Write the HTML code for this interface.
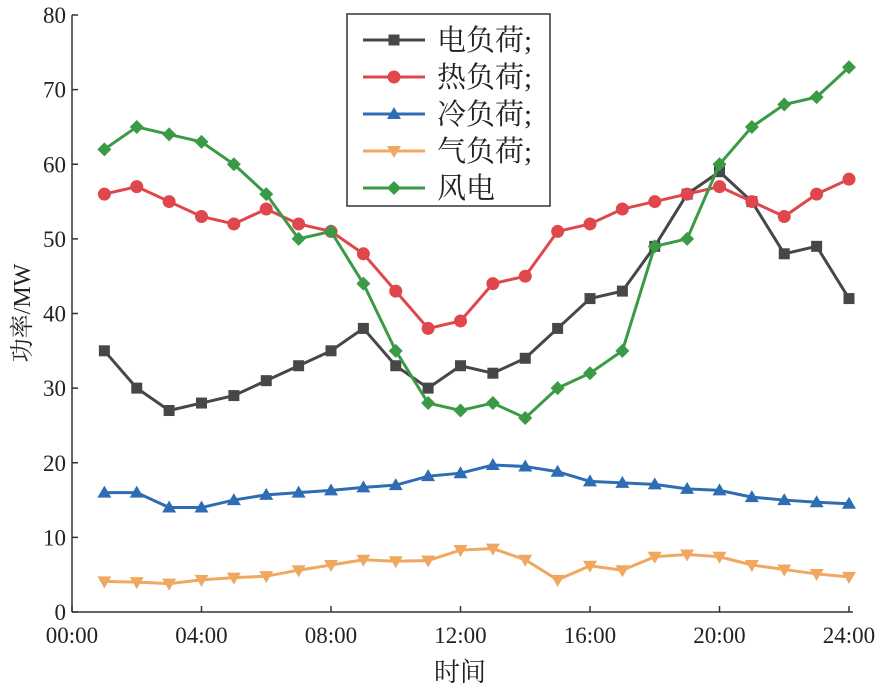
<!DOCTYPE html>
<html><head><meta charset="utf-8"><style>
body{margin:0;background:#fff;}
svg text{font-family:"Liberation Serif","Noto Serif CJK SC",serif;fill:#222;}
</style></head><body>
<svg id="s" width="884" height="689" xmlns="http://www.w3.org/2000/svg"></svg>
<script>
const s=document.getElementById('s');
const X0=72,X1=849,Y0=612,Y80=15;
const fx=h=>X0+(X1-X0)*h/24, fy=v=>Y0-(Y0-Y80)*v/80;
let o='';
o+=`<line x1="${X0}" y1="${Y80}" x2="${X0}" y2="${Y0}" stroke="#333" stroke-width="1.5"/>`;
o+=`<line x1="${X0}" y1="${Y0}" x2="${X1+4}" y2="${Y0}" stroke="#333" stroke-width="1.5"/>`;
for(let v=0;v<=80;v+=10){const y=fy(v);o+=`<line x1="${X0}" y1="${y}" x2="${X0+6}" y2="${y}" stroke="#333" stroke-width="1.5"/><text x="${X0-6}" y="${y+8}" font-size="23" text-anchor="end">${v}</text>`;}
for(let h=0;h<=24;h+=4){const x=fx(h);o+=`<line x1="${x}" y1="${Y0}" x2="${x}" y2="${Y0-6}" stroke="#333" stroke-width="1.5"/><text x="${x}" y="${Y0+31}" font-size="23" text-anchor="middle">${String(h).padStart(2,'0')}:00</text>`;}
o+=`<text x="460" y="681" font-size="26" text-anchor="middle">时间</text>`;
o+=`<text transform="translate(30,313) rotate(-90)" font-size="24" text-anchor="middle">功率/MW</text>`;
const S=[
['#474747','sq',[35,30,27,28,29,31,33,35,38,33,30,33,32,34,38,42,43,49,56,59,55,48,49,42]],
['#e0474c','ci',[56,57,55,53,52,54,52,51,48,43,38,39,44,45,51,52,54,55,56,57,55,53,56,58]],
['#2e6db4','tu',[16,16,14,14,15,15.7,16,16.3,16.7,17,18.2,18.6,19.7,19.5,18.8,17.5,17.3,17.1,16.5,16.3,15.4,15,14.7,14.5]],
['#f0a860','td',[4.1,4,3.8,4.3,4.6,4.8,5.6,6.3,7,6.8,6.9,8.3,8.5,7,4.3,6.2,5.6,7.4,7.7,7.4,6.3,5.7,5.1,4.7]],
['#3a9a45','di',[62,65,64,63,60,56,50,51,44,35,28,27,28,26,30,32,35,49,50,60,65,68,69,73]]];
function mk(t,x,y,c){
 if(t=='sq')return `<rect x="${x-5.5}" y="${y-5.5}" width="11" height="11" fill="${c}"/>`;
 if(t=='ci')return `<circle cx="${x}" cy="${y}" r="6.5" fill="${c}"/>`;
 if(t=='tu')return `<polygon points="${x},${y-7} ${x-7},${y+5} ${x+7},${y+5}" fill="${c}"/>`;
 if(t=='td')return `<polygon points="${x},${y+7} ${x-7},${y-5} ${x+7},${y-5}" fill="${c}"/>`;
 return `<polygon points="${x},${y-7} ${x+7},${y} ${x},${y+7} ${x-7},${y}" fill="${c}"/>`;
}
S.forEach(([c,t,d])=>{
 o+=`<polyline fill="none" stroke="${c}" stroke-width="3" points="${d.map((v,i)=>fx(i+1)+','+fy(v)).join(' ')}"/>`;
 d.forEach((v,i)=>o+=mk(t,fx(i+1),fy(v),c));
});
o+=`<rect x="347" y="14" width="203" height="192" fill="#fff" stroke="#333" stroke-width="1.5"/>`;
const L=['电负荷;','热负荷;','冷负荷;','气负荷;','风电'];
S.forEach(([c,t],i)=>{const y=40+i*37;
 o+=`<line x1="363" y1="${y}" x2="425" y2="${y}" stroke="${c}" stroke-width="3"/>`+mk(t,394,y,c)+`<text x="437" y="${y+10}" font-size="29">${L[i]}</text>`;});
s.innerHTML=o;
</script>
</body></html>
